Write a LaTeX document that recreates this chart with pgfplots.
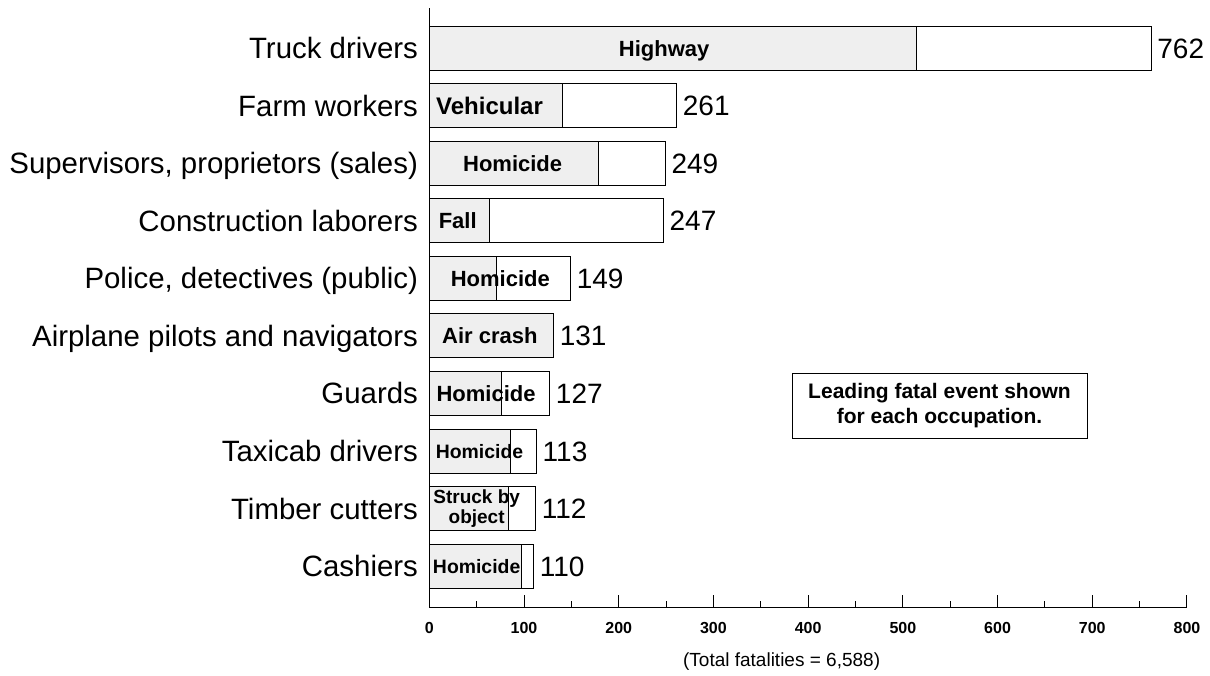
\documentclass[border=0pt]{standalone}
\usepackage{fontspec}
\setmainfont{Liberation Sans}
\usepackage{pgfplots}
\usepackage{pgfplotstable}
\pgfplotsset{compat=1.18}
\definecolor{leadfill}{HTML}{EFEFEF}
\pgfplotstableread{
idx lead rest total
9 514 248 762
8 141 120 261
7 179 70 249
6 64 183 247
5 71 78 149
4 131 0 131
3 76 51 127
2 86 27 113
1 84 28 112
0 97 13 110
}\data
\begin{document}
\begin{tikzpicture}
\path[use as bounding box] (-214.65pt,-33.65pt) rectangle (390.35pt,303.85pt);
\begin{axis}[
  scale only axis, width=378.85pt, height=299.85pt,
  xbar stacked, bar width=22pt,
  xmin=0, xmax=800, ymin=-0.725, ymax=9.704,
  axis x line=bottom, axis y line=left,
  axis line style={-, line width=0.6pt},
  tick align=inside,
  xtick={0,100,...,800}, minor x tick num=1,
  major tick length=6.25pt, minor tick length=3.25pt,
  x tick style={line width=0.5pt, black},
  ytick={0,...,9}, y tick style={draw=none},
  yticklabels={Cashiers,Timber cutters,Taxicab drivers,Guards,Airplane pilots and navigators,{Police, detectives (public)},Construction laborers,{Supervisors, proprietors (sales)},Farm workers,Truck drivers},
  /pgf/number format/assume math mode=true,
  xticklabel style={font=\bfseries\fontsize{8}{9}\selectfont, inner sep=0pt, anchor=north, yshift=-7pt},
  yticklabel style={font=\fontsize{14.7}{16}\selectfont, inner sep=0pt, anchor=east, xshift=-5.5pt, text height=10.5pt, text depth=0pt},
  clip=false,
]
\addplot[fill=leadfill, draw=black, line width=0.5pt] table[x=lead,y=idx]{\data};
\addplot[fill=white, draw=black, line width=0.5pt] table[x=rest,y=idx]{\data};
\coordinate (v9) at (axis cs:762,9);
\coordinate (v8) at (axis cs:261,8);
\coordinate (v7) at (axis cs:249,7);
\coordinate (v6) at (axis cs:247,6);
\coordinate (v5) at (axis cs:149,5);
\coordinate (v4) at (axis cs:131,4);
\coordinate (v3) at (axis cs:127,3);
\coordinate (v2) at (axis cs:113,2);
\coordinate (v1) at (axis cs:112,1);
\coordinate (v0) at (axis cs:110,0);
\coordinate (l9) at (axis cs:248,9);
\coordinate (l8) at (axis cs:63.6,8);
\coordinate (l7) at (axis cs:88,7);
\coordinate (l6) at (axis cs:30,6);
\coordinate (l5) at (axis cs:75,5);
\coordinate (l4) at (axis cs:64,4);
\coordinate (l3) at (axis cs:60,3);
\coordinate (l2) at (axis cs:53,2);
\coordinate (l1) at (axis cs:50,1);
\coordinate (l0) at (axis cs:50,0);
\coordinate (box) at (axis cs:538.7,2.79);
\coordinate (foot) at (axis cs:372,-0.725);
\end{axis}
\tikzset{val/.style={anchor=west, inner sep=0pt, xshift=3pt, font=\fontsize{14}{16}\selectfont, text height=10pt, text depth=0pt},
         lab/.style={font=\bfseries\fontsize{11}{13}\selectfont, text height=8pt, text depth=0pt, inner sep=0pt}}
\node[val] at (v9) {762};
\node[val] at (v8) {261};
\node[val] at (v7) {249};
\node[val] at (v6) {247};
\node[val] at (v5) {149};
\node[val] at (v4) {131};
\node[val] at (v3) {127};
\node[val] at (v2) {113};
\node[val] at (v1) {112};
\node[val] at (v0) {110};
\node[lab] at (l9) {Highway};
\node[lab, font=\bfseries\fontsize{12}{14}\selectfont, text height=8.6pt] at (l8) {Vehicular};
\node[lab] at (l7) {Homicide};
\node[lab] at (l6) {Fall};
\node[lab] at (l5) {Homicide};
\node[lab] at (l4) {Air crash};
\node[lab] at (l3) {Homicide};
\node[lab, font=\bfseries\fontsize{9.7}{11}\selectfont, text height=7pt] at (l2) {Homicide};
\node[font=\bfseries\fontsize{9.5}{8.5}\selectfont, align=center, inner sep=0pt] at (l1) {Struck by\\object};
\node[lab, font=\bfseries\fontsize{9.7}{11}\selectfont, text height=7pt] at (l0) {Homicide};
\node[draw, line width=0.5pt, fill=white, align=center, minimum width=147.5pt, minimum height=32.5pt, inner sep=0pt,
  font=\bfseries\fontsize{10.5}{12.5}\selectfont] at (box) {Leading fatal event shown\\for each occupation.};
\node[font=\fontsize{9.5}{11}\selectfont, yshift=-27pt] at (foot) {(Total fatalities = 6,588)};
\end{tikzpicture}
\end{document}
